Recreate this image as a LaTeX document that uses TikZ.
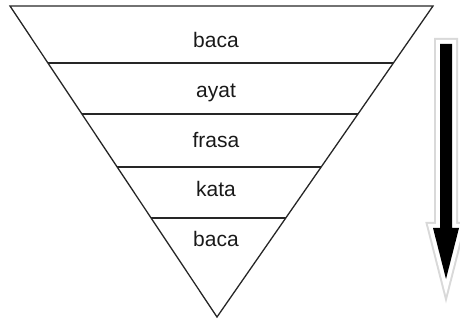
\documentclass[tikz,border=0pt]{standalone}
\usepackage{fontspec}
\setmainfont{Liberation Sans}
\usetikzlibrary{calc}

\begin{document}
\begin{tikzpicture}[x=1pt,y=-1pt]
    \tikzstyle{funnel line}=[draw=black!85, line width=1.3pt]
    \tikzstyle{level label}=[font=\fontsize{21}{25}\selectfont, text=black!90, anchor=base, inner sep=0pt]
    \tikzstyle{arrow rim}=[line join=miter, miter limit=10]

    \useasboundingbox (0,0) rectangle (460,320);

    % the funnel
    \coordinate (TL) at (10,6);
    \coordinate (TR) at (433,6);
    \coordinate (B) at (217,317);
    \draw[funnel line] (TL) -- (TR) -- (B) -- cycle;

    % the levels inside it
    \foreach \name / \y in {1/63,2/114,3/167,4/218}
    {
        \pgfmathsetmacro\t{(\y-6)/311}
        \coordinate (L-\name) at ($(TL)!\t!(B)$);
        \coordinate (R-\name) at ($(TR)!\t!(B)$);
        \draw[funnel line] (L-\name) -- (R-\name);
    }

    \foreach \name / \y / \word in {1/48/baca,2/98/ayat,3/148/frasa,4/197/kata,5/247/baca}
        \node[level label] (W-\name) at (216,\y) {\word};

    % the arrow on the right
    \coordinate (A1) at (440,44);
    \coordinate (A2) at (452,44);
    \coordinate (A3) at (452,228);
    \coordinate (A4) at (459,228);
    \coordinate (A5) at (446,279);
    \coordinate (A6) at (433,228);
    \coordinate (A7) at (440,228);
    \foreach \w / \c in {12/black!15,8/white}
        \draw[arrow rim, line width=\w pt, draw=\c] (A1) -- (A2) -- (A3) -- (A4) -- (A5) -- (A6) -- (A7) -- cycle;
    \fill[black] (A1) -- (A2) -- (A3) -- (A4) -- (A5) -- (A6) -- (A7) -- cycle;
\end{tikzpicture}
\end{document}
